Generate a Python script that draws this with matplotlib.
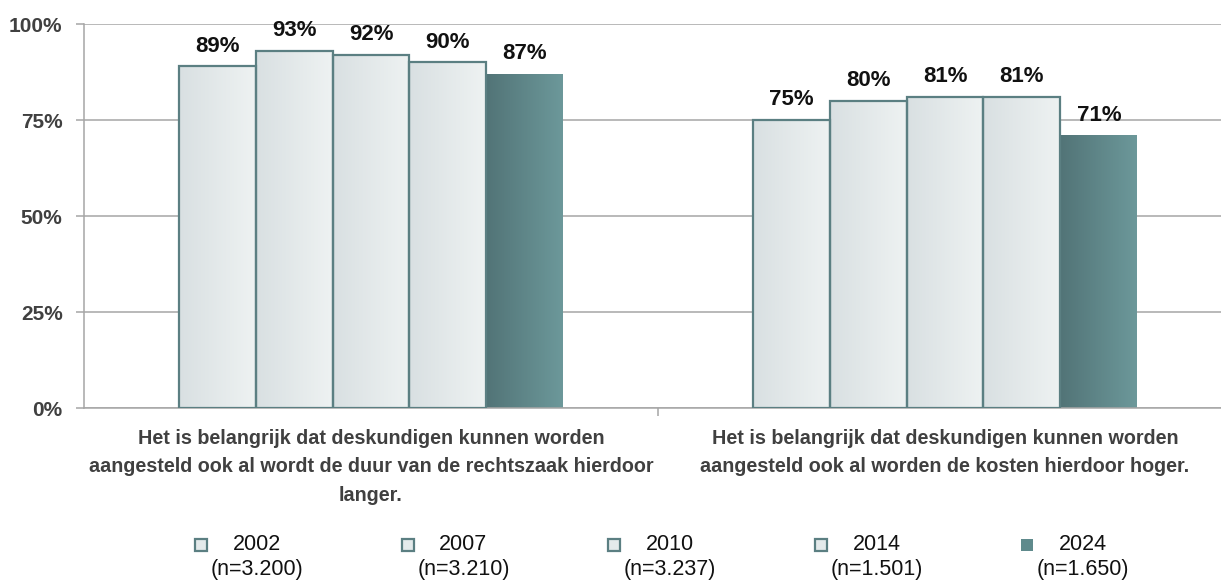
import matplotlib
matplotlib.use("Agg")
import matplotlib.pyplot as plt
import numpy as np
from matplotlib.patches import Rectangle
from matplotlib.colors import LinearSegmentedColormap

categories = [
    "Het is belangrijk dat deskundigen kunnen worden\naangesteld ook al wordt de duur van de rechtszaak hierdoor\nlanger.",
    "Het is belangrijk dat deskundigen kunnen worden\naangesteld ook al worden de kosten hierdoor hoger.",
]
years = ["2002", "2007", "2010", "2014", "2024"]
sample_sizes = ["(n=3.200)", "(n=3.210)", "(n=3.237)", "(n=1.501)", "(n=1.650)"]
values = {
    "2002": [89, 75],
    "2007": [93, 80],
    "2010": [92, 81],
    "2014": [90, 81],
    "2024": [87, 71],
}
yticks = [0, 25, 50, 75, 100]

plt.rcParams['font.family'] = ['Liberation Sans', 'DejaVu Sans']

fig = plt.figure(figsize=(12.21, 5.8), dpi=100)
W, H = 1221, 580
ax = fig.add_axes([84 / W, (H - 408) / H, 1148 / W, 384 / H])

light_cmap = LinearSegmentedColormap.from_list("light", ["#d9e0e2", "#eef2f2"])
dark_cmap = LinearSegmentedColormap.from_list("dark", ["#527477", "#6c989a"])
edge_col = "#5b7f82"
grad = np.linspace(0, 1, 64).reshape(1, -1)

n = len(years)
bw = 0.134
x = np.arange(len(categories))
for i, yr in enumerate(years):
    offs = (i - (n - 1) / 2) * bw
    cmap = dark_cmap if yr == "2024" else light_cmap
    ec = "none" if yr == "2024" else edge_col
    bars = ax.bar(x + offs, [v / 100 for v in values[yr]], width=bw,
                  facecolor="none", edgecolor=ec, linewidth=1.6, zorder=3)
    for b, v in zip(bars, values[yr]):
        x0, y0 = b.get_x(), b.get_y()
        w, h = b.get_width(), b.get_height()
        im = ax.imshow(grad, cmap=cmap, aspect="auto",
                       extent=[x0, x0 + w, y0, y0 + h], zorder=2)
        clip = Rectangle((x0, y0), w, h, transform=ax.transData)
        im.set_clip_path(clip)
        ax.annotate(f"{v}%", (x0 + w / 2, y0 + h), xytext=(0, 7),
                    textcoords="offset points", ha="center", va="bottom",
                    fontsize=16, fontweight="bold", color="#111111", zorder=4)

ax.set_xlim(-0.5, 1.5)
ax.set_ylim(0, 1)
ax.set_yticks([t / 100 for t in yticks])
ax.set_yticklabels([f"{t}%" for t in yticks], fontsize=15, fontweight="bold", color="#404040")
ax.yaxis.grid(True, color="#a6a6a6", linewidth=1.1, zorder=0)
ax.set_axisbelow(True)
ax.set_xticks([0.5])
ax.set_xticklabels([""])
ax.tick_params(axis="x", length=6, color="#a6a6a6", width=1.1)
ax.tick_params(axis="y", length=6, color="#a6a6a6", width=1.1, pad=9.4)
for s in ["top", "right"]:
    ax.spines[s].set_visible(False)
for s in ["left", "bottom"]:
    ax.spines[s].set_color("#a6a6a6")
    ax.spines[s].set_linewidth(1.1)

for xi, cat in zip(x, categories):
    ax.text(xi, -0.055, cat, transform=ax.get_xaxis_transform(), ha="center", va="top",
            fontsize=14.2, fontweight="bold", color="#404040", linespacing=1.62)

# legend
mx0, step = 201, 206.5
for i, (yr, ns) in enumerate(zip(years, sample_sizes)):
    mx = mx0 + i * step
    fc = "#5f8a8c" if yr == "2024" else "#e4eaeb"
    ec = "none" if yr == "2024" else edge_col
    fig.patches.append(Rectangle(((mx - 6) / W, (H - 551) / H), 12 / W, 12 / H,
                                 transform=fig.transFigure, facecolor=fc,
                                 edgecolor=ec, linewidth=1.6))
    tx = mx + 56
    fig.text(tx / W, (H - 545) / H, yr, ha="center", va="center", fontsize=15.5, color="#111111")
    fig.text(tx / W, (H - 569) / H, ns, ha="center", va="center", fontsize=15.5, color="#111111")

fig.savefig("out.png", dpi=100)
